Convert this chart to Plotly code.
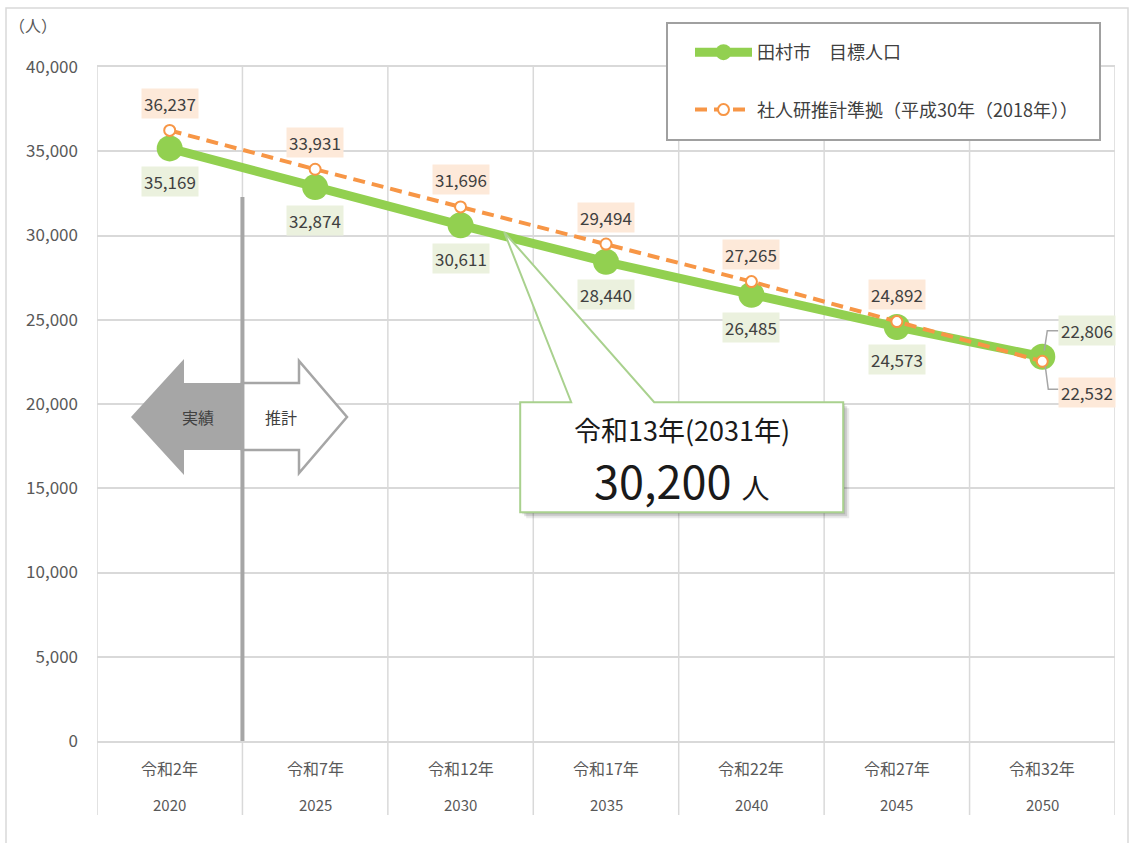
import plotly.graph_objects as go

# ---- data -------------------------------------------------------------
years = ["2020", "2025", "2030", "2035", "2040", "2045", "2050"]
era_labels = ["令和2年", "令和7年", "令和12年", "令和17年", "令和22年", "令和27年", "令和32年"]
target_pop = [35169, 32874, 30611, 28440, 26485, 24573, 22806]
ipss_pop = [36237, 33931, 31696, 29494, 27265, 24892, 22532]
target_name = "田村市　目標人口"
ipss_name = "社人研推計準拠（平成30年（2018年））"
goal_label = "令和13年(2031年)"
goal_value = 30200
goal_pos = 2.3          # where 2031 sits on the category axis (between 2030 and 2035)
y_max, y_step = 40000, 5000

# ---- geometry helpers -------------------------------------------------
FIG_W, FIG_H = 1134, 843
M_L, M_R, M_T, M_B = 97, 19, 67, 102
PW = FIG_W - M_L - M_R
PH = FIG_H - M_T - M_B
N = len(years)


def px(x):
    return (x - M_L) / PW


def py(y):
    return (M_T + PH - y) / PH


def data_px(i, v):
    return M_L + (i + 0.5) * PW / N, M_T + PH - v / y_max * PH


def path_from(points):
    pts = [f"{px(x):.5f},{py(y):.5f}" for x, y in points]
    return "M" + " L".join(pts) + " Z"


def open_path(points):
    pts = [f"{px(x):.5f},{py(y):.5f}" for x, y in points]
    return "M" + " L".join(pts)


GREEN = "#92D050"
ORANGE = "#F79646"
GRID = "#D9D9D9"
GRAY = "#A6A6A6"
TXT = "#404040"
FONT = "Noto Sans CJK JP"

fig = go.Figure()

fig.add_trace(go.Scatter(
    x=years, y=target_pop, name=target_name, mode="lines+markers",
    line=dict(color=GREEN, width=9),
    marker=dict(size=26, color=GREEN),
    legendgroup="a",
))
fig.add_trace(go.Scatter(
    x=years, y=ipss_pop, name=ipss_name, mode="lines+markers",
    line=dict(color=ORANGE, width=4, dash="12px,7px"),
    marker=dict(size=11, color="white", line=dict(color=ORANGE, width=2)),
    legendgroup="b",
))

shapes = []
annotations = []


def note(x, y, text, size, color=TXT, **kw):
    d = dict(xref="paper", yref="paper", x=x, y=y, text=text, showarrow=False,
             xanchor="center", yanchor="middle",
             font=dict(size=size, color=color, family=FONT))
    d.update(kw)
    annotations.append(d)


# outer chart frame
shapes.append(dict(type="rect", xref="paper", yref="paper",
                   x0=px(6), x1=px(1128), y0=py(8), y1=py(860),
                   line=dict(color=GRID, width=1.5), layer="below"))

# category separators running down through the axis label area
for i in range(N + 1):
    shapes.append(dict(type="line", xref="x", yref="paper",
                       x0=i - 0.5, x1=i - 0.5, y0=py(815), y1=1,
                       line=dict(color=GRID, width=1.5), layer="below"))

# 実績 / 推計 arrows
shapes.append(dict(type="path", xref="paper", yref="paper",
                   path=path_from([(131, 417), (184, 359), (184, 383), (241, 383),
                                   (241, 450), (184, 450), (184, 475)]),
                   fillcolor=GRAY, line=dict(width=0), layer="above"))
shapes.append(dict(type="path", xref="paper", yref="paper",
                   path=path_from([(242, 383), (299, 383), (299, 361), (347, 417),
                                   (299, 473), (299, 450), (242, 450)]),
                   fillcolor="white", line=dict(color=GRAY, width=2.5), layer="above"))
# boundary between actual and projected
shapes.append(dict(type="line", xref="x", yref="paper",
                   x0=0.5, x1=0.5, y0=0, y1=py(197),
                   line=dict(color=GRAY, width=4), layer="above"))

# callout pointing at the 2031 target on the line
tx, ty = M_L + (goal_pos + 0.5) * PW / N, M_T + PH - goal_value / y_max * PH
box_l, box_r, box_t, box_b = tx + 16, tx + 339, ty + 170, ty + 280
for off, alpha in ((6, 0.08), (4, 0.12), (2, 0.12)):
    shapes.append(dict(type="rect", xref="paper", yref="paper",
                       x0=px(box_l + off), x1=px(box_r + off),
                       y0=py(box_b + off), y1=py(box_t + off),
                       fillcolor=f"rgba(0,0,0,{alpha})", line=dict(width=0), layer="above"))
shapes.append(dict(type="path", xref="paper", yref="paper",
                   path=path_from([(box_l, box_t), (tx + 67, box_t), (tx, ty),
                                   (tx + 150, box_t), (box_r, box_t), (box_r, box_b),
                                   (box_l, box_b)]),
                   fillcolor="white", line=dict(color="#A9D18E", width=2), layer="above"))
bcx = (box_l + box_r) / 2
note(px(bcx), py(box_t + 27), goal_label, 27, "#1A1A1A")
note(px(bcx), py(box_t + 77),
     f"<span style='font-size:45px'>{goal_value:,}</span>"
     f" <span style='font-size:28px'>人</span>", 45, "#1A1A1A")

# leader lines for the 2050 labels
gx, gy = data_px(N - 1, target_pop[-1])
ox, oy = data_px(N - 1, ipss_pop[-1])
shapes.append(dict(type="path", xref="paper", yref="paper",
                   path=open_path([(gx + 16, gy - 26), (gx + 5, gy - 26), (gx + 2, gy - 6)]),
                   line=dict(color=GRAY, width=1.5), layer="above"))
shapes.append(dict(type="path", xref="paper", yref="paper",
                   path=open_path([(ox + 3, oy + 5), (ox + 6, oy + 28), (ox + 16, oy + 28)]),
                   line=dict(color=GRAY, width=1.5), layer="above"))

# legend frame
shapes.append(dict(type="rect", xref="paper", yref="paper",
                   x0=px(667), x1=px(1100), y0=py(140), y1=py(23),
                   fillcolor="white", line=dict(color="#A0A0A0", width=2), layer="above"))

# data labels (category index used as the x position)
for i, v in enumerate(target_pop):
    last = i == N - 1
    annotations.append(dict(x=i, y=v, xref="x", yref="y", text=f"{v:,}", showarrow=False,
                            xanchor="center", yanchor="middle",
                            xshift=45 if last else 0, yshift=26 if last else -33,
                            bgcolor="#EBF1DE", borderpad=2,
                            font=dict(size=17, color=TXT, family=FONT)))
for i, v in enumerate(ipss_pop):
    last = i == N - 1
    annotations.append(dict(x=i, y=v, xref="x", yref="y", text=f"{v:,}", showarrow=False,
                            xanchor="center", yanchor="middle",
                            xshift=45 if last else 0, yshift=-31 if last else 27,
                            bgcolor="#FDE9D9", borderpad=2,
                            font=dict(size=17, color=TXT, family=FONT)))

# two-row category labels
for i, (yr, era) in enumerate(zip(years, era_labels)):
    for row_y, txt, fs in ((768, era, 16), (804, yr, 15)):
        annotations.append(dict(x=i, xref="x", yref="paper", y=py(row_y), text=txt,
                                showarrow=False, xanchor="center", yanchor="middle",
                                font=dict(size=fs, color="#595959", family=FONT)))

# unit and arrow captions
note(px(33), py(25), "（人）", 16, "#595959")
note(px(198), py(417), "実績", 16)
note(px(281), py(417), "推計", 16)

fig.update_layout(
    width=FIG_W, height=FIG_H,
    margin=dict(l=M_L, r=M_R, t=M_T, b=M_B, pad=0),
    paper_bgcolor="white", plot_bgcolor="white",
    font=dict(family=FONT, color=TXT),
    shapes=shapes, annotations=annotations,
    showlegend=True,
    legend=dict(x=px(690), y=py(34), xanchor="left", yanchor="top",
                bgcolor="rgba(0,0,0,0)", borderwidth=0,
                font=dict(size=18, color=TXT, family=FONT),
                itemwidth=57, tracegroupgap=31, traceorder="grouped"),
    xaxis=dict(type="category", range=[-0.5, N - 0.5], showticklabels=False,
               showgrid=False, zeroline=False, showline=True, mirror=True,
               linecolor=GRID, linewidth=1.5, fixedrange=True),
    yaxis=dict(range=[0, y_max], dtick=y_step, tickformat=",d", showgrid=True,
               gridcolor=GRID, gridwidth=1.5, zeroline=True, zerolinecolor=GRID,
               zerolinewidth=1.5, showline=False, ticks="",
               ticklabelstandoff=18, tickfont=dict(size=17, color="#595959", family=FONT)),
)

fig.write_html("out.html")
